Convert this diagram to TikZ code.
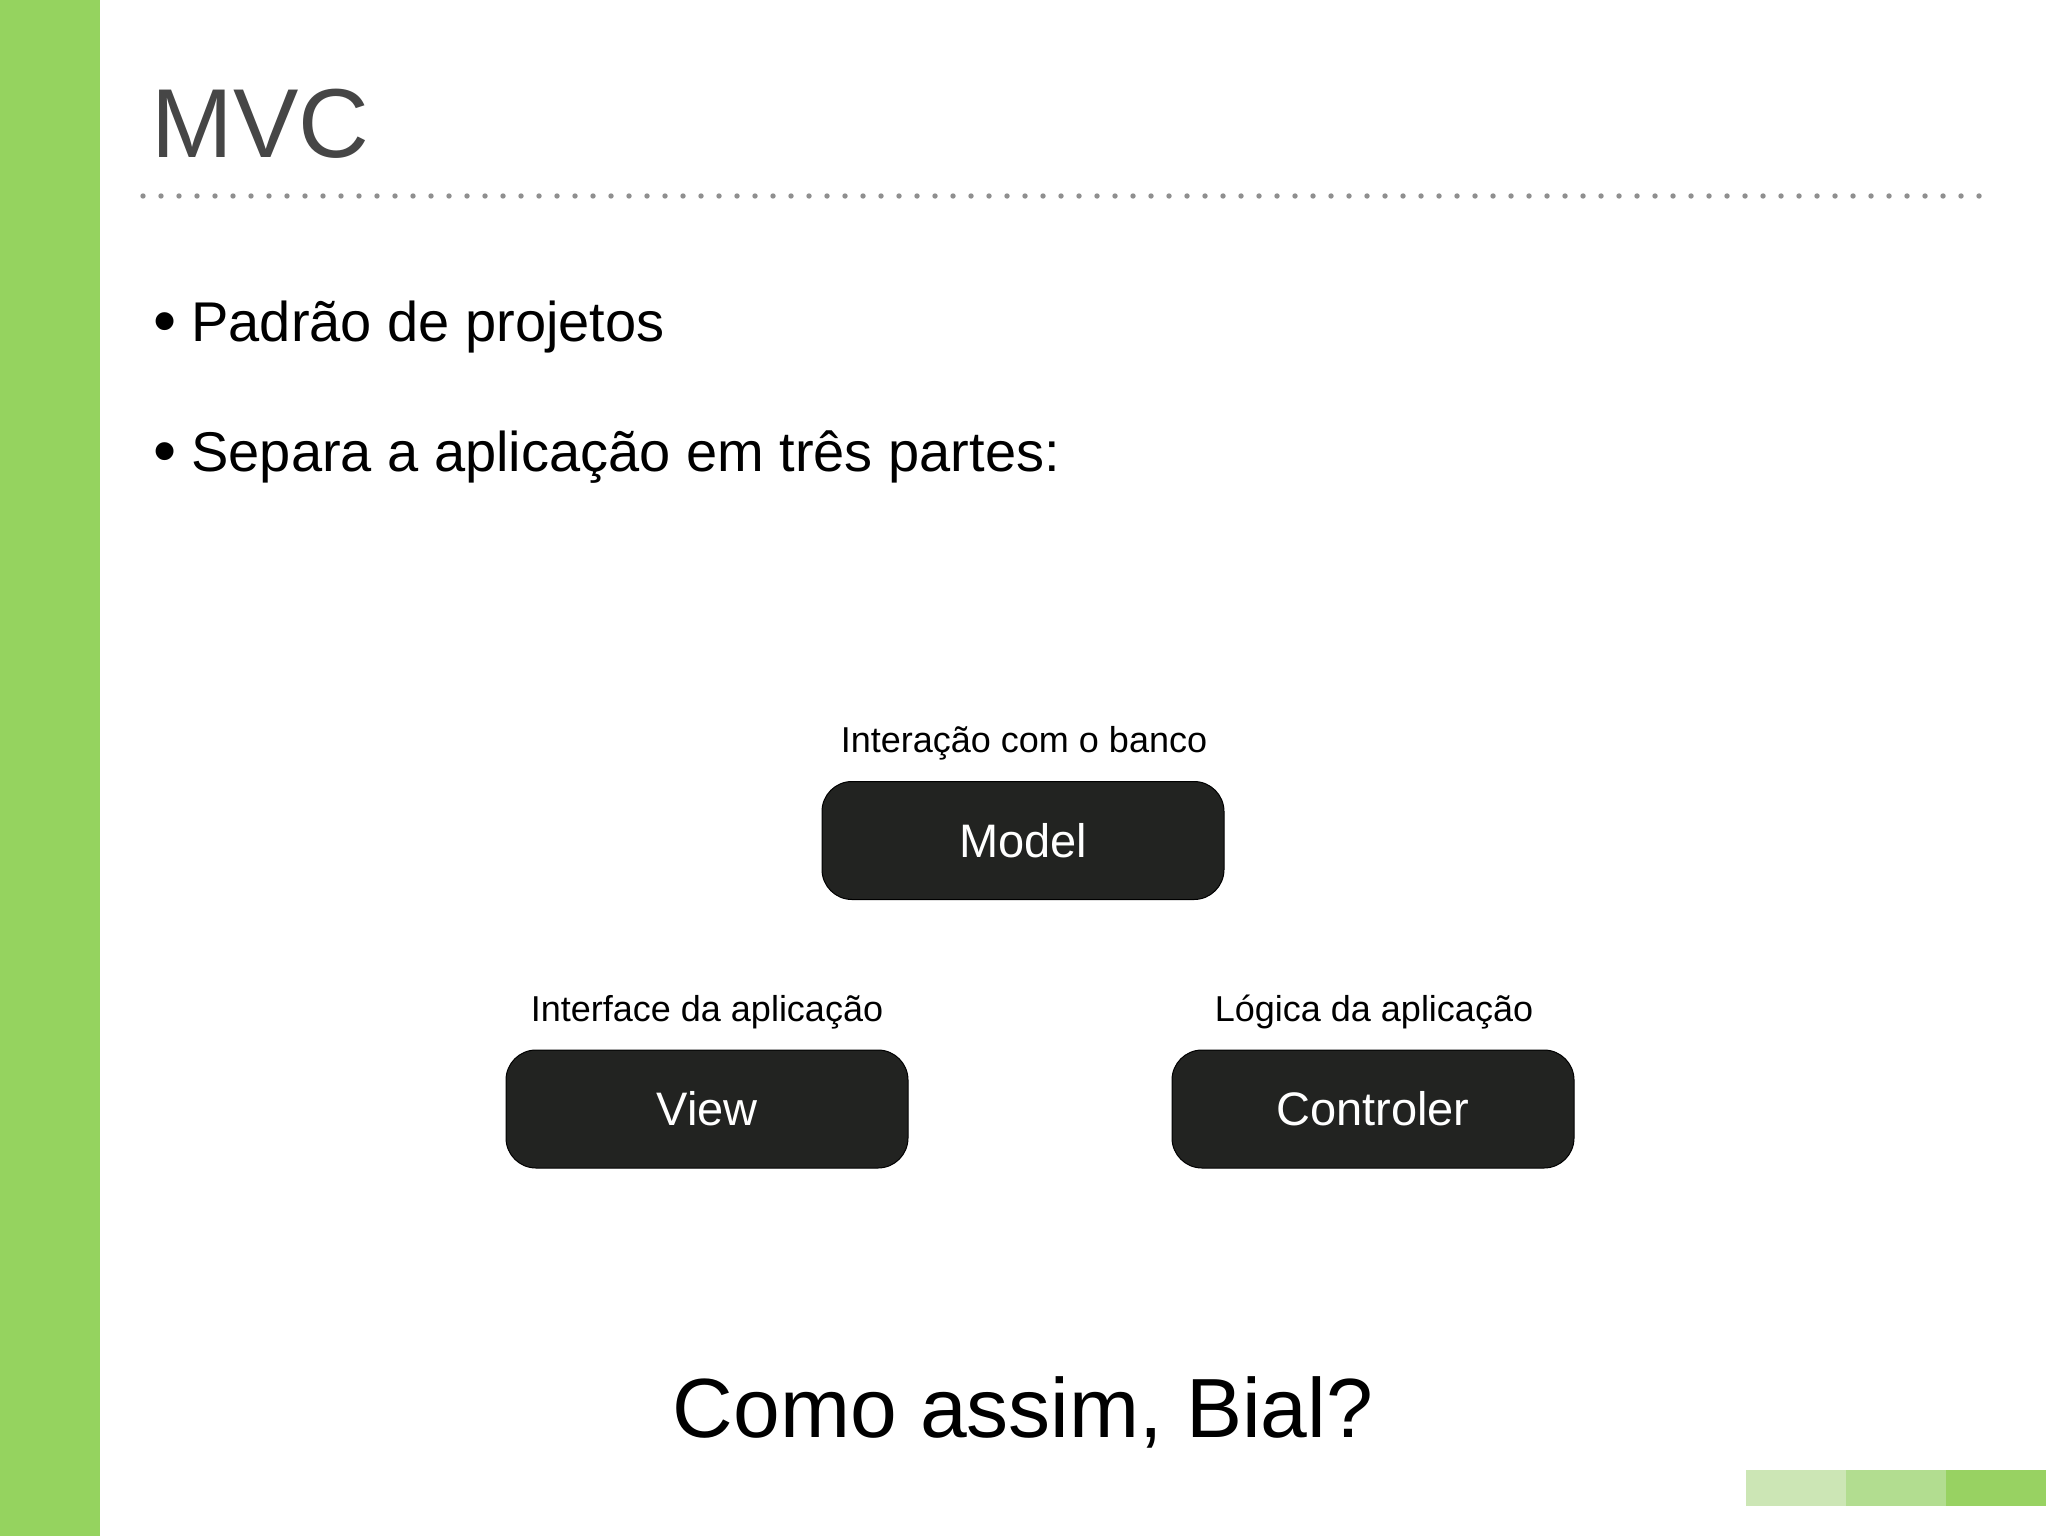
\documentclass[tikz,border=0pt]{standalone}
\usepackage{fontspec}
\setmainfont{Liberation Sans}
\definecolor{barGreen}{HTML}{95D35F}
\definecolor{sqLight}{HTML}{CCE6B5}
\definecolor{sqMid}{HTML}{B2DD90}
\definecolor{sqDark}{HTML}{98D262}
\definecolor{titleGray}{HTML}{464646}
\definecolor{dotGray}{HTML}{8F8F8F}
\definecolor{boxFill}{HTML}{222321}
\tikzset{
  titletext/.style={anchor=base west, inner sep=0pt, text=titleGray, font=\fontsize{49}{58}\selectfont},
  bullettext/.style={anchor=base west, inner sep=0pt, text=black, font=\fontsize{28}{34}\selectfont},
  bulletmark/.style={anchor=base west, inner sep=0pt, text=black, font=\fontsize{33}{40}\selectfont},
  labeltext/.style={anchor=base, inner sep=0pt, text=black, font=\fontsize{18}{22}\selectfont},
  mvcbox/.style={rectangle, rounded corners=15pt, draw=black, line width=0.5pt, fill=boxFill,
    minimum width=201pt, minimum height=59pt, inner sep=0pt, text=white, font=\fontsize{23.5}{28}\selectfont},
  bigtext/.style={anchor=base, inner sep=0pt, text=black, font=\fontsize{42}{50}\selectfont},
  dotmark/.style={circle, fill=dotGray, inner sep=0pt, minimum size=2.7pt}
}
\begin{document}
\begin{tikzpicture}[x=0.5pt, y=-0.5pt]
\useasboundingbox (0,0) rectangle (2048,1536);
\fill[white] (0,0) rectangle (2048,1536);
% left green bar
\fill[barGreen] (0,0) rectangle (100,1536);
% title
\node[titletext] (title) at (151,157) {MVC};
% dotted rule
\foreach \k in {0,...,102} {
  \node[dotmark] (dot\k) at ({143+18*\k},196) {};
}
% bullets
\node[bulletmark] (b1dot) at (153,343) {•};
\node[bullettext] (b1) at (191,341) {Padrão de projetos};
\node[bulletmark] (b2dot) at (153,473) {•};
\node[bullettext] (b2) at (191,471) {Separa a aplicação em três partes:};
% boxes
\node[labeltext] (modellabel) at (1024,752) {Interação com o banco};
\node[mvcbox] (model) at (1023,840.5) {Model};
\node[labeltext] (viewlabel) at (707,1021) {Interface da aplicação};
\node[mvcbox] (view) at (707,1109) {View};
\node[labeltext] (ctrllabel) at (1374,1021) {Lógica da aplicação};
\node[mvcbox] (ctrl) at (1373,1109) {Controler};
% bottom text
\node[bigtext] (bial) at (1023,1437) {Como assim, Bial?};
% bottom-right squares
\fill[sqLight] (1746,1470) rectangle (1846,1506);
\fill[sqMid] (1846,1470) rectangle (1946,1506);
\fill[sqDark] (1946,1470) rectangle (2046,1506);
\end{tikzpicture}
\end{document}
